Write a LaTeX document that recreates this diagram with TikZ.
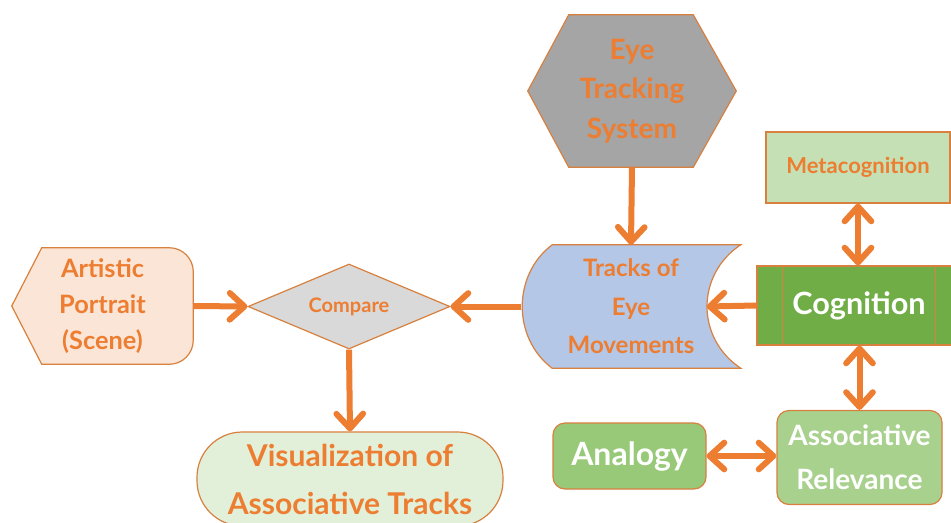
\documentclass[tikz,border=0pt]{standalone}
\usepackage{fontspec}
\setmainfont{Lato}
\usetikzlibrary{arrows.meta,shapes.geometric,calc,backgrounds}
\definecolor{orng}{HTML}{ED7D31}
\definecolor{bord}{HTML}{D8803E}
\definecolor{hexgray}{HTML}{A5A5A5}
\definecolor{trblue}{HTML}{B4C7E7}
\definecolor{coggreen}{HTML}{70AD47}
\definecolor{metagreen}{HTML}{C5E0B4}
\definecolor{argreen}{HTML}{A9D18E}
\definecolor{angreen}{HTML}{98C979}
\definecolor{cmpgray}{HTML}{D9D9D9}
\definecolor{artpeach}{HTML}{FBE5D6}
\definecolor{visgreen}{HTML}{E2F0D9}
\begin{document}
\begin{tikzpicture}[x=0.75pt,y=-0.75pt,
  box/.style={draw=bord, line width=0.9pt, inner sep=0pt, align=center},
  ghost/.style={inner sep=0pt, align=center},
  otext/.style={text=orng},
  wtext/.style={text=white},
  arr/.style={draw=orng, line width=4.5pt, -{Straight Barb[length=11pt,width=20pt,round]}},
  darr/.style={draw=orng, line width=4.5pt, {Straight Barb[length=11pt,width=20pt,round]}-{Straight Barb[length=11pt,width=20pt,round]}}]
\useasboundingbox (0,0) rectangle (951,522);

% Eye Tracking System (hexagon)
\node[ghost, otext, minimum width=156pt, minimum height=114pt, font=\fontsize{21}{29.5}\selectfont\bfseries] (ets) at (632,91)
  {Eye\\Tracking\\System};
% Tracks of Eye Movements (stored data)
\node[ghost, otext, minimum width=164.25pt, minimum height=92.25pt, font=\fontsize{18}{29}\selectfont\bfseries] (tr) at (631,306.5)
  {Tracks of\\Eye\\Movements};
\coordinate (trR) at ($(tr.east)+(-34,0)$);
% Cognition
\node[box, wtext, fill=coggreen, minimum width=153pt, minimum height=59.25pt, font=\fontsize{23}{28}\selectfont\bfseries] (cog) at (859,305.5)
  {Cognition};
% Metacognition
\node[box, otext, fill=metagreen, minimum width=138pt, minimum height=53.25pt, font=\fontsize{16.5}{22}\selectfont\bfseries] (meta) at (858,167.5)
  {Metacognition};
% Associative Relevance
\node[box, wtext, fill=argreen, rounded corners=9pt, minimum width=123.75pt, minimum height=70.5pt, font=\fontsize{21}{33}\selectfont\bfseries] (ar) at (859.5,457.5)
  {Associative\\Relevance};
% Analogy
\node[box, wtext, fill=angreen, rounded corners=9pt, minimum width=114.75pt, minimum height=49.5pt, font=\fontsize{24}{30}\selectfont\bfseries] (an) at (629.5,456)
  {Analogy};
% Compare
\node[box, otext, diamond, aspect=2.38, fill=cmpgray, minimum width=151.5pt, minimum height=63.75pt, font=\fontsize{15}{20}\selectfont\bfseries] (cmp) at (349,306.5)
  {Compare};
% Artistic Portrait (Scene)
\node[ghost, otext, minimum width=135.75pt, minimum height=87pt, font=\fontsize{19}{27}\selectfont\bfseries] (art) at (102.5,306)
  {Artistic\\Portrait\\(Scene)};
% Visualization of Associative Tracks
\node[box, otext, fill=visgreen, rounded corners=34pt, minimum width=229.5pt, minimum height=70.5pt, font=\fontsize{22.5}{36}\selectfont\bfseries] (vis) at (350,479)
  {Visualization of\\Associative Tracks};

\begin{scope}[on background layer]
  \draw[draw=bord, line width=0.9pt, fill=hexgray]
    (ets.west) -- ($(ets.north west)+(41,0)$) -- ($(ets.north east)+(-43,0)$) -- (ets.east)
    -- ($(ets.south east)+(-43,0)$) -- ($(ets.south west)+(41,0)$) -- cycle;
  \draw[draw=bord, line width=0.9pt, fill=trblue]
    ($(tr.north west)+(31,0)$) -- (tr.north east)
    .. controls ($(tr.north east)+(-45,30)$) and ($(tr.south east)+(-45,-30)$) .. (tr.south east)
    -- ($(tr.south west)+(31,0)$)
    .. controls ($(tr.south west)+(-9,-30)$) and ($(tr.north west)+(-9,30)$) .. ($(tr.north west)+(31,0)$) -- cycle;
  \draw[draw=bord, line width=0.9pt, fill=artpeach]
    (art.west) -- ($(art.north west)+(30,0)$) -- ($(art.north east)+(-24,0)$)
    [rounded corners=18pt] -- (art.north east) -- (art.south east) [sharp corners] -- ($(art.south east)+(-24,0)$)
    -- ($(art.south west)+(30,0)$) -- cycle;
\end{scope}

\draw[draw=bord, line width=0.9pt] ($(cog.north west)+(26,0)$) -- ($(cog.south west)+(26,0)$);
\draw[draw=bord, line width=0.9pt] ($(cog.north east)+(-26,0)$) -- ($(cog.south east)+(-26,0)$);

% connectors
\draw[arr] (ets.south) -- (tr.north);
\draw[arr] (cog.west) -- (trR);
\draw[arr] (tr.west) -- (cmp.east);
\draw[arr] (art.east) -- (cmp.west);
\draw[arr] (cmp.south) -- (vis.north);
\draw[darr] (meta.south) -- (cog.north -| meta.south);
\draw[darr] (cog.south -| ar.north) -- (ar.north);
\draw[darr] (an.east) -- (ar.west |- an.east);
\end{tikzpicture}
\end{document}
